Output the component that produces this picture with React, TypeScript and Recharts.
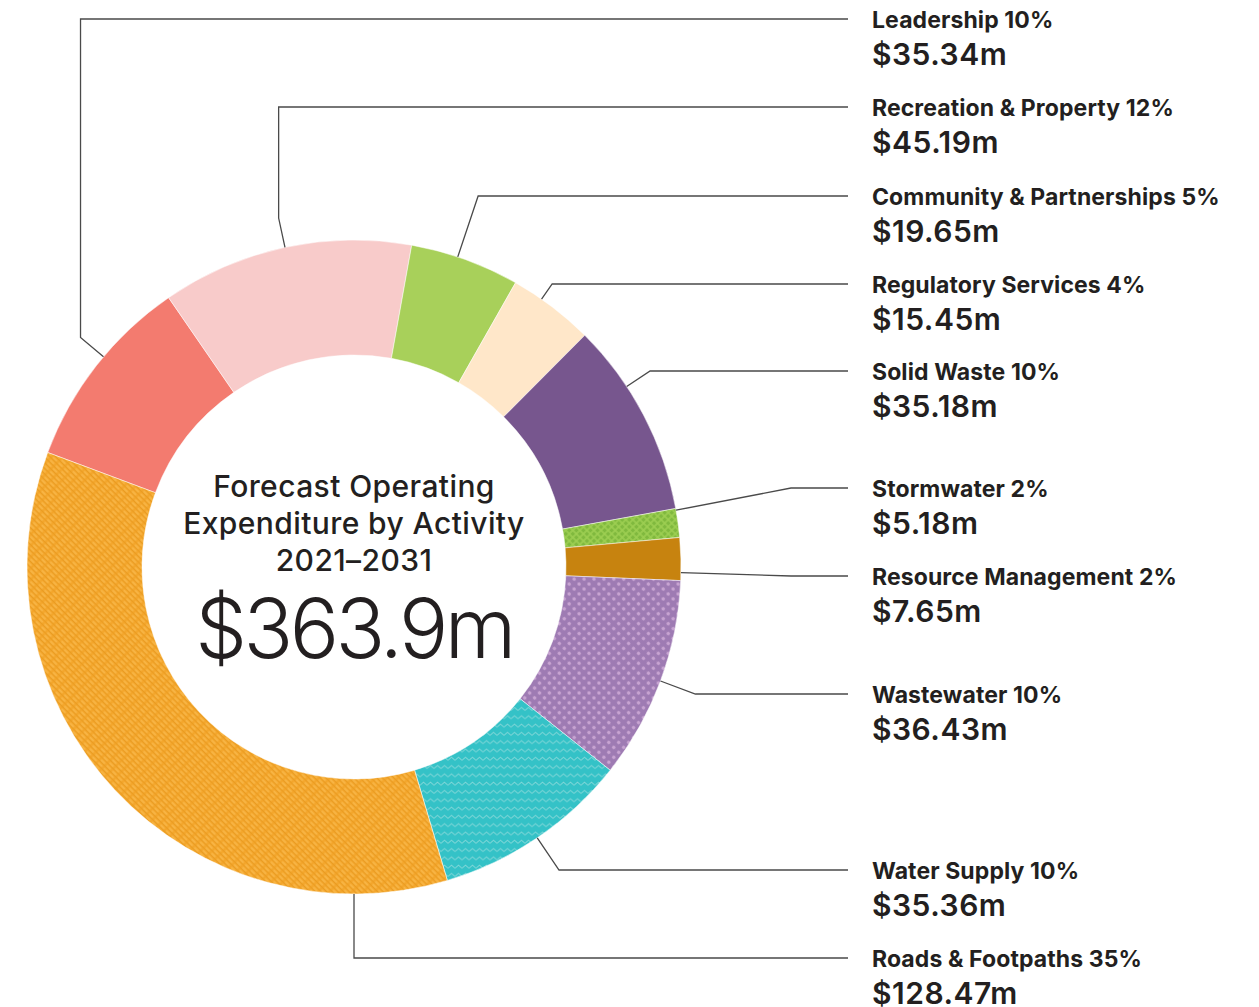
import { Cell, Pie, PieChart } from "recharts";

const ACTIVITIES = [
  "Leadership",
  "Recreation & Property",
  "Community & Partnerships",
  "Regulatory Services",
  "Solid Waste",
  "Stormwater",
  "Resource Management",
  "Wastewater",
  "Water Supply",
  "Roads & Footpaths",
];
const SPEND_M = [35.34, 45.19, 19.65, 15.45, 35.18, 5.18, 7.65, 36.43, 35.36, 128.47];
const SHARE_LABELS = ["10%", "12%", "5%", "4%", "10%", "2%", "2%", "10%", "10%", "35%"];
const FILLS = [
  "#F37B6F",
  "#F8CBCA",
  "#A8D05A",
  "#FFE7C9",
  "#77568E",
  "url(#pStorm)",
  "#C7830F",
  "url(#pWaste)",
  "url(#pWater)",
  "url(#pRoads)",
];
const TITLE_LINES = ["Forecast Operating", "Expenditure by Activity", "2021–2031"];

// leader line layout per slice: y of the rule, how it bends, optional anchor angle (deg)
const LEADERS: { y: number; bend: string; angle?: number }[] = [
  { y: 19, bend: "up", angle: 140 },
  { y: 107, bend: "up" },
  { y: 196, bend: "radial", angle: 71.5 },
  { y: 284, bend: "radial", angle: 55 },
  { y: 371, bend: "radial", angle: 33.5 },
  { y: 488, bend: "direct", angle: 10 },
  { y: 576, bend: "direct", angle: -1 },
  { y: 694, bend: "radial" },
  { y: 870, bend: "radial" },
  { y: 958, bend: "down", angle: -90 },
];

const RULE_END_X = 848;
const TEXT_X = 872;
const FONT = "Inter, 'Noto Sans', sans-serif";
const INK = "#231F20";
const RAD = Math.PI / 180;

const data = ACTIVITIES.map((name, i) => ({ name, value: SPEND_M[i] }));
const total = SPEND_M.reduce((a, b) => a + b, 0);

function renderLeader(props: any) {
  const { cx, cy, outerRadius, midAngle, index } = props;
  const lay = LEADERS[index];
  const a = (lay.angle ?? midAngle) * RAD;
  const ux = Math.cos(a);
  const uy = -Math.sin(a);
  const sx = cx + outerRadius * ux;
  const sy = cy + outerRadius * uy;
  let pts: [number, number][] = [];
  if (lay.bend === "up") {
    const ex = sx + 30 * ux;
    const ey = sy + 30 * uy;
    pts = [[sx, sy], [ex, ey], [ex, lay.y], [RULE_END_X, lay.y]];
  } else if (lay.bend === "radial") {
    const t = (lay.y - sy) / uy;
    pts = [[sx, sy], [sx + t * ux, lay.y], [RULE_END_X, lay.y]];
  } else if (lay.bend === "direct") {
    pts = [[sx, sy], [791, lay.y], [RULE_END_X, lay.y]];
  } else {
    pts = [[sx, sy], [sx, lay.y], [RULE_END_X, lay.y]];
  }
  return (
    <g key={`leader-${index}`}>
      <polyline
        points={pts.map((p) => p.join(",")).join(" ")}
        fill="none"
        stroke="#4a4a4a"
        strokeWidth={1.3}
      />
      <text
        x={TEXT_X}
        y={lay.y + 9}
        fontFamily={FONT}
        fontWeight={700}
        fontSize={23}
        letterSpacing={0.1}
        fill={INK}
      >
        {`${ACTIVITIES[index]} ${SHARE_LABELS[index]}`}
      </text>
      <text
        x={TEXT_X}
        y={lay.y + 46}
        fontFamily={FONT}
        fontWeight={600}
        fontSize={30}
        letterSpacing={0.5}
        fill={INK}
      >
        {`$${SPEND_M[index].toFixed(2)}m`}
      </text>
    </g>
  );
}

export default function App() {
  return (
    <div style={{ position: "absolute", left: 0, top: 0, background: "#fff" }}>
      <PieChart width={1259} height={1007} margin={{ top: 0, right: 0, bottom: 0, left: 0 }}>
        <defs>
          <pattern id="pStorm" width={5} height={5} patternUnits="userSpaceOnUse" patternTransform="rotate(45)">
            <rect width={5} height={5} fill="#9DCF52" />
            <rect x={0.8} y={0.8} width={3.4} height={3.4} fill="#80B93E" />
          </pattern>
          <pattern id="pWaste" width={7} height={7} patternUnits="userSpaceOnUse" patternTransform="rotate(45)">
            <rect width={7} height={7} fill="#9E7BB3" />
            <circle cx={3.5} cy={3.5} r={1.8} fill="#C8A4D2" />
          </pattern>
          <pattern id="pWater" width={7} height={8.3} patternUnits="userSpaceOnUse">
            <rect width={7} height={8.3} fill="#34C2C7" />
            <path d="M0 5 L3.5 2 L7 5" fill="none" stroke="#7ED6D8" strokeWidth={1.1} />
          </pattern>
          <pattern id="pRoads" width={8} height={4} patternUnits="userSpaceOnUse" patternTransform="rotate(45)">
            <rect width={8} height={4} fill="#F3A52A" />
            <rect x={0.5} y={0.8} width={6} height={2} rx={1} fill="#F8B545" />
            <rect x={0} y={3.2} width={8} height={0.8} fill="#E89A1F" />
          </pattern>
        </defs>
        <Pie
          data={data}
          dataKey="value"
          nameKey="name"
          cx={354}
          cy={567}
          innerRadius={212}
          outerRadius={327}
          startAngle={159.5}
          endAngle={-200.5}
          stroke="#fff"
          strokeWidth={0.5}
          label={renderLeader}
          labelLine={false}
          isAnimationActive={false}
        >
          {data.map((d, i) => (
            <Cell key={d.name} fill={FILLS[i]} />
          ))}
        </Pie>
        {TITLE_LINES.map((line, i) => (
          <text
            key={line}
            x={354}
            y={497 + i * 37}
            textAnchor="middle"
            fontFamily={FONT}
            fontWeight={500}
            fontSize={30}
            letterSpacing={0.4}
            fill={INK}
          >
            {line}
          </text>
        ))}
        <text
          x={354}
          y={658}
          textAnchor="middle"
          fontFamily={FONT}
          fontWeight={300}
          fontSize={82}
          letterSpacing={-3.5}
          fill={INK}
        >
          {`$${total.toFixed(1)}m`}
        </text>
      </PieChart>
    </div>
  );
}
